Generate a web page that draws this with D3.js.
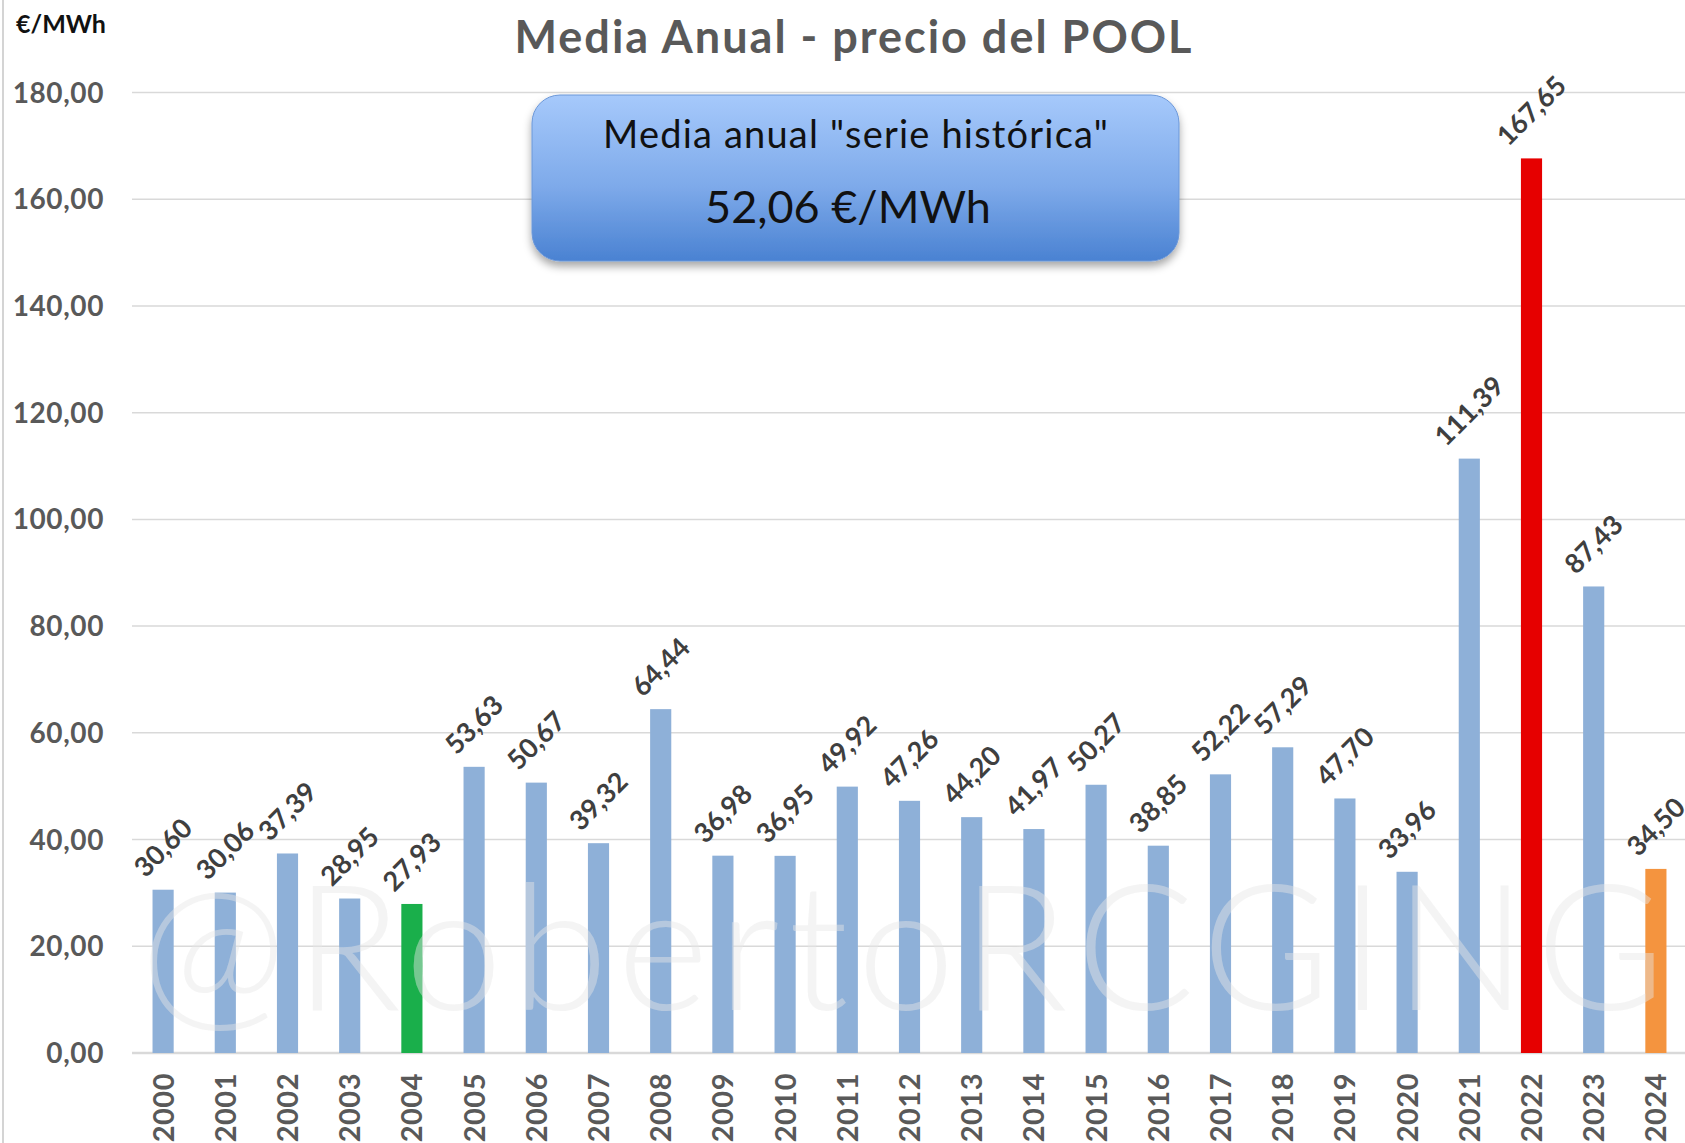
<!DOCTYPE html>
<html>
<head>
<meta charset="utf-8">
<script src="https://cdn.jsdelivr.net/npm/d3@7"></script>
<style>
    body { margin: 0; background: #fff; }
    svg { display: block; font-family: "Century Gothic", Lato, "Noto Sans", sans-serif; }
</style>
</head>
<body>
<svg class="chart" width="1685" height="1143"></svg>
<script>
var years = ["2000", "2001", "2002", "2003", "2004", "2005", "2006", "2007", "2008", "2009",
             "2010", "2011", "2012", "2013", "2014", "2015", "2016", "2017", "2018", "2019",
             "2020", "2021", "2022", "2023", "2024"];
var prices = [30.60, 30.06, 37.39, 28.95, 27.93, 53.63, 50.67, 39.32, 64.44, 36.98,
              36.95, 49.92, 47.26, 44.20, 41.97, 50.27, 38.85, 52.22, 57.29, 47.70,
              33.96, 111.39, 167.65, 87.43, 34.50];
var yTicks = [0, 20, 40, 60, 80, 100, 120, 140, 160, 180];
var highlight = { "2004": "#1aaf4b", "2022": "#e60000", "2024": "#f4943f" };
var baseColor = "#8eb0d8";

var title = "Media Anual - precio del POOL";
var unitLabel = "€/MWh";
var boxLine1 = "Media anual \"serie histórica\"";
var boxLine2 = "52,06 €/MWh";
var watermark = "@RobertoRCGING";

var barChart = (function() {

    var svg = d3.select("svg.chart");
    var width = 1685, height = 1143;
    var plotLeft = 132, plotRight = 1687, plotTop = 92.5, plotBottom = 1053;

    var x = d3.scaleBand().domain(years).range([plotLeft, plotRight]).paddingInner(0.66).paddingOuter(0.33);
    var y = d3.scaleLinear().domain([0, 180]).range([plotBottom, plotTop]);

    function fmt(v) {
        return v.toFixed(2).replace(".", ",");
    }

    function drawFrame() {
        // left border of the chart area
        svg.append("line")
            .attr("x1", 3).attr("x2", 3).attr("y1", 0).attr("y2", height)
            .attr("stroke", "#d4d4d4").attr("stroke-width", 2);

        svg.selectAll(".grid")
            .data(yTicks)
            .enter()
                .append("line")
                .attr("class", "grid")
                .attr("x1", plotLeft)
                .attr("x2", width)
                .attr("y1", function(d) { return y(d); })
                .attr("y2", function(d) { return y(d); })
                .attr("stroke", "#d9d9d9")
                .attr("stroke-width", function(d) { return d === 0 ? 2.5 : 1.5; });

        svg.selectAll(".ytick")
            .data(yTicks)
            .enter()
                .append("text")
                .attr("class", "ytick")
                .attr("x", 104)
                .attr("y", function(d) { return y(d); })
                .attr("dy", "0.36em")
                .attr("text-anchor", "end")
                .attr("font-size", "28px")
                .attr("letter-spacing", "0.6px")
                .attr("font-weight", "bold")
                .attr("fill", "#595959")
                .text(function(d) { return fmt(d); });
    }

    function drawBars() {
        svg.selectAll(".bar")
            .data(prices)
            .enter()
                .append("rect")
                .attr("class", "bar")
                .attr("x", function(d, i) { return x(years[i]); })
                .attr("width", x.bandwidth())
                .attr("y", function(d) { return y(d); })
                .attr("height", function(d) { return plotBottom - y(d); })
                .attr("fill", function(d, i) { return highlight[years[i]] || baseColor; });

        // watermark sits over the bars
        svg.append("text")
            .attr("x", 140)
            .attr("y", 1010)
            .attr("font-size", "176px")
            .attr("font-weight", 300)
            .attr("textLength", 1525)
            .attr("lengthAdjust", "spacing")
            .attr("fill", "#e6e6e6")
            .attr("fill-opacity", 0.45)
            .text(watermark);

        svg.selectAll(".xtick")
            .data(years)
            .enter()
                .append("text")
                .attr("class", "xtick")
                .attr("transform", function(d) {
                    return "translate(" + (x(d) + x.bandwidth() / 2) + ",1073) rotate(-90)";
                })
                .attr("dy", "0.36em")
                .attr("text-anchor", "end")
                .attr("font-size", "29px")
                .attr("letter-spacing", "0.5px")
                .attr("font-weight", "bold")
                .attr("fill", "#595959")
                .text(function(d) { return d; });

        var labels = svg.selectAll(".val")
            .data(prices)
            .enter()
                .append("text")
                .attr("class", "val")
                .attr("text-anchor", "middle")
                .attr("dy", "0.35em")
                .attr("font-size", "27px")
                .attr("font-weight", "bold")
                .attr("fill", "#3f3f3f")
                .text(function(d) { return fmt(d); });

        labels.attr("transform", function(d, i) {
            var len = this.getComputedTextLength();
            var half = (len + 19) / (2 * Math.SQRT2);
            var cx = x(years[i]) + x.bandwidth() / 2;
            var cy = y(d) - 11 - half;
            return "translate(" + cx + "," + cy + ") rotate(-45)";
        });
    }

    function drawTitles() {
        svg.append("text")
            .attr("x", 854)
            .attr("y", 53)
            .attr("text-anchor", "middle")
            .attr("font-size", "45px")
            .attr("letter-spacing", "2px")
            .attr("font-weight", "bold")
            .attr("fill", "#595959")
            .text(title);

        svg.append("text")
            .attr("x", 16)
            .attr("y", 33)
            .attr("font-size", "25px")
            .attr("font-weight", "bold")
            .attr("fill", "#111")
            .text(unitLabel);

        var defs = svg.append("defs");
        var grad = defs.append("linearGradient")
            .attr("id", "boxGrad")
            .attr("x1", 0).attr("y1", 0).attr("x2", 0).attr("y2", 1);
        grad.append("stop").attr("offset", "0%").attr("stop-color", "#a6c9fb");
        grad.append("stop").attr("offset", "55%").attr("stop-color", "#7eaaea");
        grad.append("stop").attr("offset", "100%").attr("stop-color", "#4a82d2");

        var shadow = defs.append("filter")
            .attr("id", "boxShadow")
            .attr("x", "-10%").attr("y", "-10%").attr("width", "120%").attr("height", "140%");
        shadow.append("feDropShadow")
            .attr("dx", 0).attr("dy", 5).attr("stdDeviation", 4)
            .attr("flood-color", "#000").attr("flood-opacity", 0.35);

        svg.append("rect")
            .attr("x", 532)
            .attr("y", 95)
            .attr("width", 647)
            .attr("height", 166)
            .attr("rx", 28)
            .attr("fill", "url(#boxGrad)")
            .attr("stroke", "#6b97d8")
            .attr("stroke-width", 1)
            .attr("filter", "url(#boxShadow)");

        svg.append("text")
            .attr("x", 856)
            .attr("y", 148)
            .attr("text-anchor", "middle")
            .attr("font-size", "38px")
            .attr("letter-spacing", "1.2px")
            .attr("fill", "#111")
            .text(boxLine1);

        svg.append("text")
            .attr("x", 848)
            .attr("y", 223)
            .attr("text-anchor", "middle")
            .attr("font-size", "45px")
            .attr("fill", "#111")
            .text(boxLine2);
    }

    return {
        draw: function() {
            drawFrame();
            drawBars();
            drawTitles();
        }
    };
})();

barChart.draw();
</script>
</body>
</html>
